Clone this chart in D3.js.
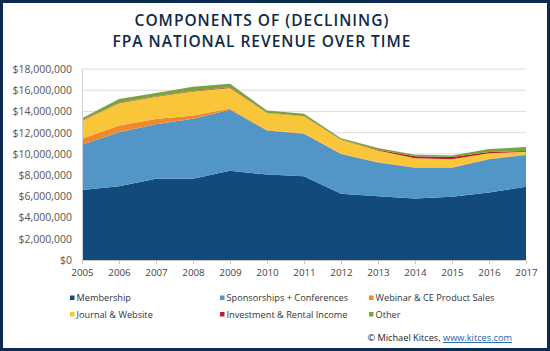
<!DOCTYPE html>
<html>
<head>
<meta charset="utf-8">
<script src="https://cdn.jsdelivr.net/npm/d3@7"></script>
<style>
  body { margin: 0; background: #fff; }
  text { font-family: "Open Sans", sans-serif; }
</style>
</head>
<body>
<div id="vis"></div>
<script>
// values in $ millions
const years = [2005, 2006, 2007, 2008, 2009, 2010, 2011, 2012, 2013, 2014, 2015, 2016, 2017]
const membership = [6.6, 6.95, 7.65, 7.65, 8.4, 8.05, 7.9, 6.25, 6.0, 5.8, 5.95, 6.35, 6.9]
const sponsorships = [4.25, 5.1, 5.15, 5.65, 5.75, 4.15, 4.0, 3.75, 3.2, 2.9, 2.75, 3.15, 3.0]
const webinar = [0.58, 0.62, 0.48, 0.32, 0.12, 0.05, 0.04, 0.03, 0.03, 0.03, 0.05, 0.05, 0.04]
const journal = [1.7, 2.1, 2.1, 2.25, 1.95, 1.6, 1.6, 1.3, 1.1, 0.85, 0.75, 0.5, 0.25]
const investment = [0.04, 0.06, 0.05, 0.06, 0.06, 0.03, 0.03, 0.03, 0.07, 0.2, 0.2, 0.12, 0.08]
const other = [0.18, 0.35, 0.3, 0.4, 0.33, 0.2, 0.22, 0.12, 0.15, 0.15, 0.15, 0.3, 0.37]

const seriesNames = ['Membership', 'Sponsorships + Conferences', 'Webinar & CE Product Sales',
    'Journal & Website', 'Investment & Rental Income', 'Other']
const seriesValues = [membership, sponsorships, webinar, journal, investment, other]
const colors = ['#134a7c', '#5296c8', '#ee8a2d', '#f9c63a', '#b8202e', '#7aa33e']
const yTicks = [0, 2, 4, 6, 8, 10, 12, 14, 16, 18]

const W = 550, H = 351
const margin = {left: 82, right: 24, top: 69, bottom: 91}

const table = years.map((y, i) => {
    let row = {year: y}
    seriesNames.forEach((s, k) => { row[s] = seriesValues[k][i] * 1e6 })
    return row
})
const stacked = d3.stack().keys(seriesNames)(table)

const svg = d3.select('#vis').append('svg')
    .attr('width', W)
    .attr('height', H)

// navy frame
svg.append('rect').attr('width', W).attr('height', H).attr('fill', '#0c2b50')
svg.append('rect').attr('x', 3).attr('y', 3).attr('width', W - 6).attr('height', H - 6).attr('fill', '#fff')

const titleLines = ['COMPONENTS OF (DECLINING)', 'FPA NATIONAL REVENUE OVER TIME']
svg.append('g')
    .selectAll('text')
    .data(titleLines)
    .enter()
    .append('text')
    .attr('x', 262).attr('y', (d, i) => 26 + i * 21)
    .attr('text-anchor', 'middle')
    .attr('font-size', 15.5).attr('font-weight', 600)
    .attr('letter-spacing', 1)
    .attr('fill', '#10294a')
    .text(d => d)

const x = d3.scaleLinear().domain([2005, 2017]).range([margin.left, W - margin.right])
const y = d3.scaleLinear().domain([0, 18e6]).range([H - margin.bottom, margin.top])

// gridlines
svg.append('g')
    .selectAll('line')
    .data(yTicks.slice(1))
    .enter()
    .append('line')
    .attr('x1', x(2005)).attr('x2', x(2017))
    .attr('y1', d => y(d * 1e6)).attr('y2', d => y(d * 1e6))
    .attr('stroke', '#dcdcdc').attr('stroke-width', 1)

const area = d3.area()
    .x(d => x(d.data.year))
    .y0(d => y(d[0]))
    .y1(d => y(d[1]))

svg.append('g')
    .selectAll('path')
    .data(stacked)
    .enter()
    .append('path')
    .attr('fill', (d, i) => colors[i])
    .attr('d', area)

// y axis labels
const yAxis = svg.append('g')
    .attr('transform', 'translate(' + x(2005) + ',0)')
    .call(d3.axisLeft(y).tickValues(yTicks.map(d => d * 1e6)).tickSize(0).tickPadding(10)
        .tickFormat(d => '$' + d3.format(',')(d)))
yAxis.select('.domain').attr('stroke', '#d0d0d0')
yAxis.selectAll('text').attr('font-size', 10.5).attr('fill', '#555').style('font-family', '"Open Sans", sans-serif')

// x axis
const xAxis = svg.append('g')
    .attr('transform', 'translate(0,' + y(0) + ')')
    .call(d3.axisBottom(x).tickValues(years).tickFormat(d3.format('d')).tickSize(4).tickPadding(5))
xAxis.select('.domain').attr('stroke', '#c8c8c8')
xAxis.selectAll('line').attr('stroke', '#c8c8c8')
xAxis.selectAll('text').attr('font-size', 9.8).attr('fill', '#444').style('font-family', '"Open Sans", sans-serif')

// legend
const legendX = [72, 222, 371]
const legend = svg.append('g')
    .selectAll('g')
    .data(seriesNames)
    .enter()
    .append('g')
    .attr('transform', (d, i) => 'translate(' + legendX[i % 3] + ',' + (298 + Math.floor(i / 3) * 16.5) + ')')
legend.append('rect')
    .attr('x', -2).attr('y', -2.5).attr('width', 4.5).attr('height', 4.5)
    .attr('fill', (d, i) => colors[i])
legend.append('text')
    .attr('x', 4.5).attr('dy', '0.35em')
    .attr('font-size', 9.2).attr('fill', '#333')
    .text(d => d)

// credit
const credit = svg.append('text')
    .attr('x', 512).attr('y', 341)
    .attr('text-anchor', 'end')
    .attr('font-size', 9.2).attr('fill', '#222')
credit.append('tspan').text('© Michael Kitces, ')
credit.append('tspan').attr('fill', '#1a5fb4').attr('text-decoration', 'underline').text('www.kitces.com')
</script>
</body>
</html>
